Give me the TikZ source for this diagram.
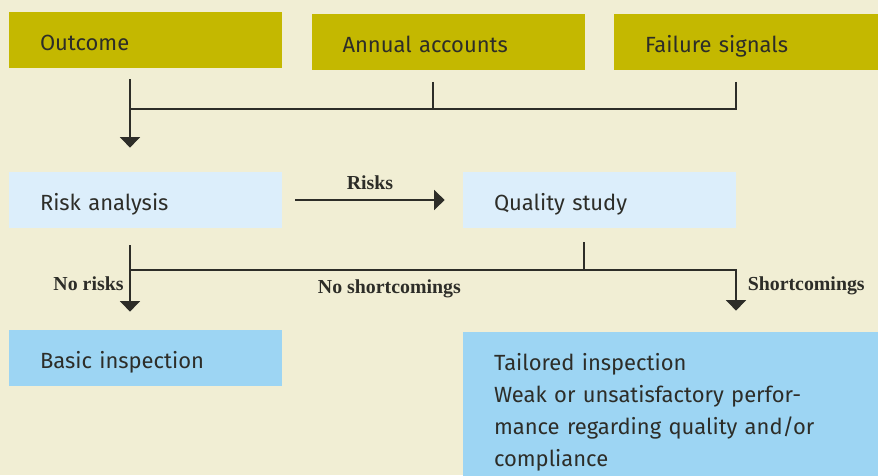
\documentclass[tikz,border=0pt]{standalone}
\usepackage{fontspec}
\setmainfont{Liberation Serif}
\setsansfont{Fira Sans}
\usepackage{tikz}
\usetikzlibrary{arrows.meta, positioning}

\definecolor{paper}{RGB}{241,238,212}
\definecolor{olive}{RGB}{196,184,0}
\definecolor{paleblue}{RGB}{220,238,251}
\definecolor{skyblue}{RGB}{157,213,243}
\definecolor{ink}{RGB}{45,45,40}

\begin{document}
\begin{tikzpicture}
        [
        box/.style={rectangle, inner xsep=0.62cm, inner ysep=0pt, text width=4.22cm, minimum height=1.12cm, align=left, text=ink, font=\sffamily\fontsize{12.5}{18.2}\selectfont},
        single/.style={text height=12pt, text depth=0.2pt},
        source/.style={box, single, fill=olive},
        study/.style={box, single, fill=paleblue},
        result/.style={box, fill=skyblue},
        line/.style={draw=ink, line width=0.7pt},
        arrow/.style={line, -{Triangle[width=0.4cm, length=0.21cm]}},
        tag/.style={text=ink, font=\bfseries\fontsize{11.3}{13}\selectfont}
        ]

        \fill[paper] (0,0) rectangle (17.56,-9.50);
        \useasboundingbox (0,0) rectangle (17.56,-9.50);

        \node[source] (outcome) at (2.91,-0.80) {Outcome};
        \node[source] (accounts) at (8.96,-0.85) {Annual accounts};
        \node[source, text width=4.04cm] (signals) at (14.92,-0.85) {Failure signals};

        \node[study] (risk) at (2.91,-4.00) {Risk analysis};
        \node[study] (quality) at (11.99,-4.00) {Quality study};

        \node[result, single] (basic) at (2.91,-7.16) {Basic inspection};
        \node[result, text width=7.06cm, minimum height=3.22cm] (tailored) at (13.41,-8.25)
                {Tailored inspection\\Weak or unsatisfactory perfor-\\mance regarding quality and/or\\compliance};

        \coordinate (merge) at (2.60,-2.18);
        \coordinate (split) at (2.60,-5.40);

        \draw[arrow] ([xshift=-0.31cm, yshift=-0.22cm]outcome.south) -- ([xshift=-0.31cm, yshift=0.48cm]risk.north);
        \draw[line] ([xshift=-0.30cm, yshift=-0.22cm]accounts.south) |- (merge);
        \draw[line] ([xshift=-0.20cm, yshift=-0.22cm]signals.south) |- (merge);

        \draw[arrow] ([xshift=0.26cm]risk.east) -- node[tag, above=2pt] {Risks} ([xshift=-0.36cm]quality.west);

        \draw[arrow] ([xshift=-0.31cm, yshift=-0.34cm]risk.south) -- node[tag, pos=0.58, left] {No risks} ([xshift=-0.31cm, yshift=0.36cm]basic.north);
        \draw[line] ([xshift=-0.31cm, yshift=-0.28cm]quality.south) |- (split);
        \draw[arrow] (split) -| node[tag, pos=0.214, below=2pt] {No shortcomings} node[tag, pos=0.70, right=3pt] {Shortcomings} ([xshift=1.31cm, yshift=0.42cm]tailored.north);

    \end{tikzpicture}
\end{document}
